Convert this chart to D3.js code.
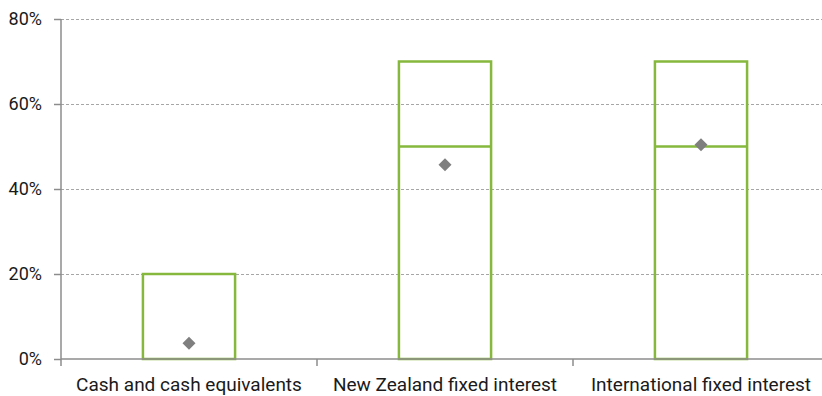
<!DOCTYPE html>
<html><head><meta charset="utf-8">
<script src="https://cdn.jsdelivr.net/npm/d3@7"></script>
<style>body{margin:0;background:#fff}svg{display:block}</style>
</head><body>
<svg id="c" width="822" height="396"></svg>
<script>
const categories = ["Cash and cash equivalents", "New Zealand fixed interest", "International fixed interest"];
const rangeMin = [0, 0, 0];
const rangeMax = [20, 70, 70];
const targets = [null, 50, 50];
const actual = [3.7, 45.7, 50.4];
const yTicks = [0, 20, 40, 60, 80];

const svg = d3.select("#c");
const m = {left: 61, right: 829, top: 19, bottom: 359};
const x = d3.scaleBand().domain(categories).range([m.left, m.right]).paddingInner(0).paddingOuter(0);
const y = d3.scaleLinear().domain([0, 80]).range([m.bottom, m.top]);
const font = "Roboto, 'Noto Sans', sans-serif";

// gridlines
svg.append("g").selectAll("line").data(yTicks.filter(d => d > 0)).join("line")
  .attr("x1", m.left).attr("x2", m.right)
  .attr("y1", d => y(d) + 0.5).attr("y2", d => y(d) + 0.5)
  .attr("stroke", "#a6a6a6").attr("stroke-width", 1).attr("stroke-dasharray", "3,2");

const bw = x.bandwidth() * 0.36;
const data = categories.map((c, i) => ({c, lo: rangeMin[i], hi: rangeMax[i], t: targets[i], a: actual[i]}));

const g = svg.append("g");
g.selectAll("rect").data(data).join("rect")
  .attr("x", d => x(d.c) + x.bandwidth() / 2 - bw / 2)
  .attr("width", bw)
  .attr("y", d => y(d.hi))
  .attr("height", d => y(d.lo) - y(d.hi))
  .attr("fill", "none").attr("stroke", "#86b83e").attr("stroke-width", 2.5);

g.selectAll("line.t").data(data.filter(d => d.t != null)).join("line").attr("class", "t")
  .attr("x1", d => x(d.c) + x.bandwidth() / 2 - bw / 2)
  .attr("x2", d => x(d.c) + x.bandwidth() / 2 + bw / 2)
  .attr("y1", d => y(d.t)).attr("y2", d => y(d.t))
  .attr("stroke", "#86b83e").attr("stroke-width", 2.5);

g.selectAll("path.a").data(data).join("path").attr("class", "a")
  .attr("transform", d => `translate(${x(d.c) + x.bandwidth() / 2},${y(d.a)})`)
  .attr("d", "M0,-6.5L6.5,0L0,6.5L-6.5,0Z")
  .attr("fill", "#7f7f7f");

// y axis
const ya = svg.append("g").attr("transform", `translate(${m.left},0)`)
  .call(d3.axisLeft(y).tickValues(yTicks).tickFormat(d => d + "%").tickSize(7).tickPadding(12));
ya.select(".domain").attr("stroke", "#8c8c8c").attr("stroke-width", 1.5).attr("d", `M0,${m.top}V${m.bottom}`);
ya.selectAll(".tick line").attr("stroke", "#8c8c8c").attr("stroke-width", 1.5);
ya.selectAll(".tick text").attr("font-family", font).attr("font-size", 18).attr("fill", "#1a1a1a");

// x axis
const xa = svg.append("g").attr("transform", `translate(0,${m.bottom})`)
  .call(d3.axisBottom(x).tickSize(0).tickPadding(19));
xa.select(".domain").attr("stroke", "#8c8c8c").attr("stroke-width", 1.5).attr("d", `M${m.left},0H${m.right}`);
xa.selectAll(".tick text").attr("font-family", font).attr("font-size", 19).attr("fill", "#1a1a1a");
// category boundary ticks
xa.append("g").selectAll("line").data(categories.map(c => x(c)).concat([m.right])).join("line")
  .attr("x1", d => d).attr("x2", d => d).attr("y1", 0).attr("y2", 7)
  .attr("stroke", "#8c8c8c").attr("stroke-width", 1.5);
</script>
</body></html>
